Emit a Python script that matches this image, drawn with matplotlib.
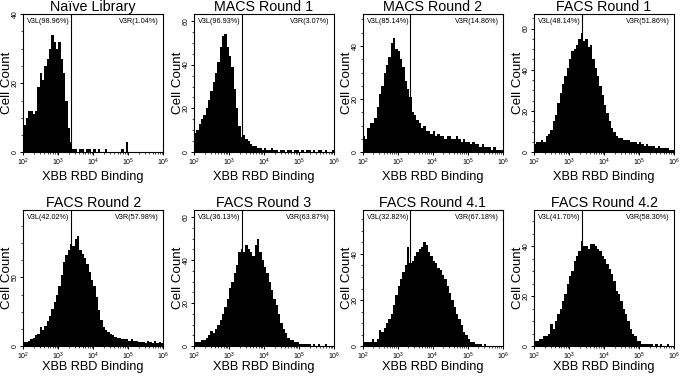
import matplotlib
matplotlib.use('Agg')

import numpy as np
import matplotlib.pyplot as plt
from matplotlib.ticker import MultipleLocator, AutoMinorLocator, LogLocator, NullFormatter

plt.rcParams['font.family'] = ['Liberation Sans', 'DejaVu Sans']

titles = ['Naïve Library', 'MACS Round 1', 'MACS Round 2', 'FACS Round 1',
          'FACS Round 2', 'FACS Round 3', 'FACS Round 4.1', 'FACS Round 4.2']
left_pct = ['98.96%', '96.93%', '85.14%', '48.14%', '42.02%', '36.13%', '32.82%', '41.70%']
right_pct = ['1.04%', '3.07%', '14.86%', '51.86%', '57.98%', '63.87%', '67.18%', '58.30%']
y_max = [40, 63, 52, 67, 99, 63.3, 59, 54.5]
y_step = [20, 20, 20, 20, 50, 20, 20, 20]
gate = 2290

# 60 log bins from 1e2 to 1e6 (15 per decade), counts
naive = [8, 10, 12, 12, 11, 12, 19, 23, 21, 25, 27, 30, 34, 32, 30, 32, 27, 23, 15, 7,
         3, 1, 1, 0, 1, 1, 0, 1, 1, 0, 1, 0, 1, 0, 0, 1, 0, 0, 0, 0,
         0, 0, 1, 0, 3, 0, 0, 0, 0, 0, 0, 0, 0, 0, 0, 0, 0, 0, 0, 0]
macs1 = [9, 10, 13, 15, 17, 20, 24, 28, 32, 36, 41, 48, 53, 54, 48, 44, 39, 29, 20, 12,
         7, 8, 6, 5, 4, 3, 3, 2, 2, 1, 2, 1, 1, 2, 1, 1, 0, 1, 1, 0,
         1, 1, 0, 1, 1, 0, 1, 0, 1, 1, 0, 1, 0, 1, 1, 0, 1, 0, 0, 1]
macs2 = [6, 5, 9, 11, 11, 13, 17, 22, 25, 30, 33, 36, 41, 43, 39, 38, 35, 32, 27, 24,
         21, 15, 14, 12, 11, 9, 10, 8, 8, 7, 8, 6, 7, 6, 6, 5, 6, 6, 5, 5,
         6, 5, 4, 5, 4, 4, 3, 4, 3, 3, 2, 3, 2, 2, 2, 1, 2, 1, 1, 1]
facs1 = [4, 5, 5, 6, 5, 8, 9, 11, 15, 18, 24, 29, 33, 37, 41, 45, 49, 50, 52, 55,
         58, 54, 55, 51, 52, 45, 41, 37, 32, 28, 23, 19, 15, 12, 10, 8, 7, 7, 6, 6,
         6, 5, 5, 5, 4, 5, 4, 3, 4, 3, 3, 3, 2, 3, 2, 2, 2, 2, 1, 1]
facs2 = [3, 3, 4, 5, 6, 8, 9, 14, 12, 15, 18, 22, 27, 32, 37, 44, 52, 61, 66, 70,
         74, 73, 78, 80, 70, 67, 64, 60, 54, 48, 44, 36, 26, 19, 14, 12, 10, 9, 8, 7,
         6, 6, 5, 5, 5, 4, 5, 4, 4, 3, 3, 3, 2, 4, 3, 2, 4, 2, 3, 2]
facs3 = [2, 2, 2, 3, 3, 4, 5, 7, 6, 8, 10, 12, 15, 18, 22, 27, 30, 34, 38, 44,
         45, 44, 47, 45, 44, 42, 47, 50, 44, 40, 37, 34, 30, 26, 22, 19, 15, 11, 8, 6,
         4, 3, 3, 2, 2, 1, 1, 1, 1, 1, 0, 1, 0, 1, 0, 0, 1, 0, 0, 0]
facs41 = [2, 2, 2, 2, 3, 2, 3, 7, 6, 8, 10, 12, 14, 18, 22, 26, 29, 32, 35, 43,
          36, 37, 39, 41, 42, 43, 45, 44, 41, 39, 37, 36, 34, 33, 31, 29, 26, 23, 20, 17,
          14, 12, 9, 6, 5, 3, 2, 2, 1, 1, 1, 0, 1, 0, 0, 0, 0, 0, 0, 0]
facs42 = [2, 2, 3, 3, 4, 4, 5, 9, 7, 10, 13, 15, 18, 21, 25, 28, 30, 34, 36, 38,
          42, 40, 40, 39, 41, 41, 40, 39, 38, 36, 35, 33, 31, 29, 26, 22, 21, 18, 15, 13,
          10, 7, 5, 4, 2, 2, 1, 1, 1, 1, 1, 0, 1, 0, 1, 0, 0, 1, 0, 0]
counts = [naive, macs1, macs2, facs1, facs2, facs3, facs41, facs42]

edges = np.logspace(2, 6, 61)

fig = plt.figure(figsize=(6.83, 3.8), dpi=100)
lefts = [0.034, 0.284, 0.531, 0.782]
bottoms = [0.599, 0.089]
heights = [0.364, 0.358]
xlabel_y = [-0.135, -0.112]

for i in range(8):
    r, c = divmod(i, 4)
    ax = fig.add_axes([lefts[c], bottoms[r], 0.205, heights[r]])
    ax.stairs(counts[i], edges, fill=True, color='black', linewidth=0.6)
    ax.set_xscale('log')
    ax.set_xlim(1e2, 1e6)
    ax.set_ylim(0, y_max[i])
    ax.axvline(gate, color='black', linewidth=0.8)
    ax.yaxis.set_major_locator(MultipleLocator(y_step[i]))
    ax.yaxis.set_minor_locator(AutoMinorLocator(4))
    ax.xaxis.set_major_locator(LogLocator(base=10, numticks=10))
    ax.xaxis.set_minor_locator(LogLocator(base=10, subs=np.arange(2, 10), numticks=20))
    ax.xaxis.set_minor_formatter(NullFormatter())
    ax.tick_params(axis='both', which='major', labelsize=5.0, length=2.2, width=0.7, pad=0.8)
    ax.tick_params(axis='both', which='minor', length=1.3, width=0.5)
    for lbl in ax.get_yticklabels():
        lbl.set_rotation(90)
        lbl.set_va('center')
    for s in ax.spines.values():
        s.set_linewidth(0.8)
    ax.set_title(titles[i], fontsize=10.3, pad=1)
    ax.set_ylabel('Cell Count', fontsize=9.6)
    ax.yaxis.set_label_coords(-0.072, 0.5)
    ax.set_xlabel('XBB RBD Binding', fontsize=9.2)
    ax.xaxis.set_label_coords(0.5, xlabel_y[r])
    ax.text(0.03, 0.975, 'V3L(' + left_pct[i] + ')', transform=ax.transAxes,
            fontsize=5.2, ha='left', va='top')
    ax.text(0.97, 0.975, 'V3R(' + right_pct[i] + ')', transform=ax.transAxes,
            fontsize=5.2, ha='right', va='top')

fig.savefig('out.png', dpi=100)
